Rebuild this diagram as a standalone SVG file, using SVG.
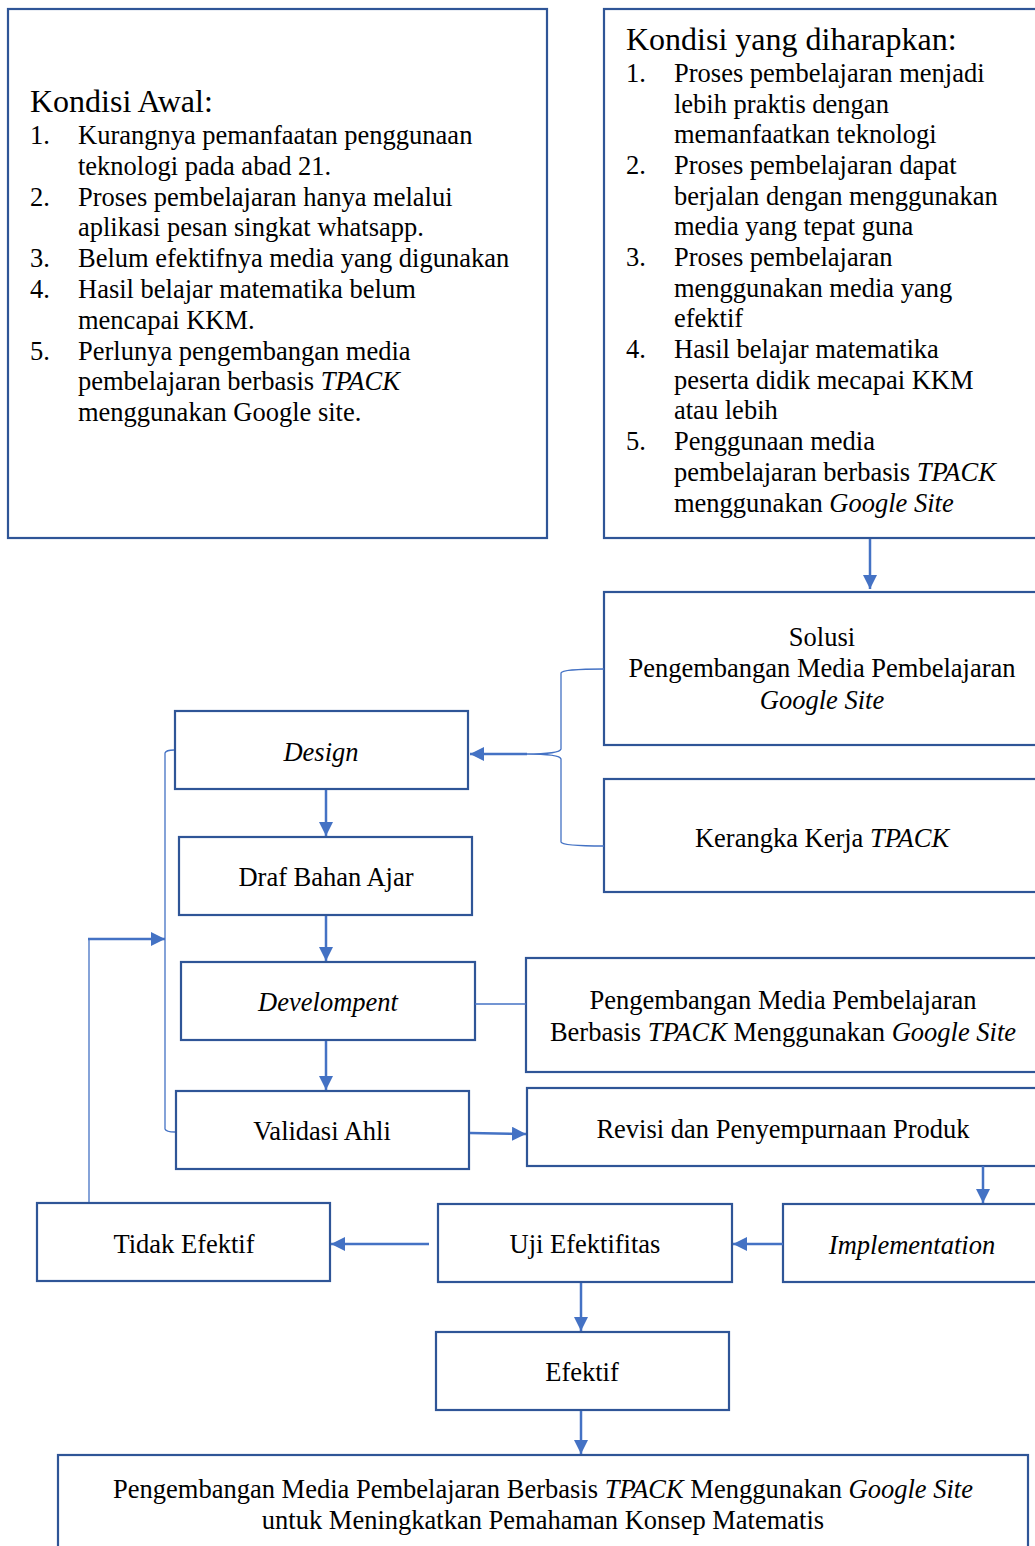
<svg xmlns="http://www.w3.org/2000/svg" width="1035" height="1546" viewBox="0 0 1035 1546">
<style>
.box{fill:#fff;stroke:#2F5597;stroke-width:2.2}
.t{font-family:"Liberation Serif","Times New Roman",serif;font-size:26.5px;fill:#000}
.ttl{font-family:"Liberation Serif","Times New Roman",serif;font-size:32px;fill:#000}
.c{text-anchor:middle}
.i{font-style:italic}
.con{fill:none;stroke:#4472C4;stroke-width:2.5}
.thin{fill:none;stroke:#4472C4;stroke-width:1.3}
</style>
<defs>
<marker id="ah" markerUnits="userSpaceOnUse" markerWidth="16" markerHeight="16" refX="14" refY="7" orient="auto">
<path d="M0,0 L14,7 L0,14 Z" fill="#4472C4"/>
</marker>
</defs>
<rect width="1035" height="1546" fill="#fff"/>

<g id="kondisi-awal">
<rect class="box" x="8" y="9" width="539" height="529"/>
<text class="ttl" x="30" y="112">Kondisi Awal:</text>
<g class="t">
<text x="30" y="144">1.</text><text x="78" y="144">Kurangnya pemanfaatan penggunaan</text>
<text x="78" y="175">teknologi pada abad 21.</text>
<text x="30" y="206">2.</text><text x="78" y="206">Proses pembelajaran hanya melalui</text>
<text x="78" y="236">aplikasi pesan singkat whatsapp.</text>
<text x="30" y="267">3.</text><text x="78" y="267">Belum efektifnya media yang digunakan</text>
<text x="30" y="298">4.</text><text x="78" y="298">Hasil belajar matematika belum</text>
<text x="78" y="329">mencapai KKM.</text>
<text x="30" y="360">5.</text><text x="78" y="360">Perlunya pengembangan media</text>
<text x="78" y="390">pembelajaran berbasis <tspan class="i">TPACK</tspan></text>
<text x="78" y="421">menggunakan Google site.</text>
</g>
</g>

<g id="kondisi-diharapkan">
<rect class="box" x="604" y="9" width="445" height="529"/>
<text class="ttl" x="626" y="50">Kondisi yang diharapkan:</text>
<g class="t">
<text x="626" y="82">1.</text><text x="674" y="82">Proses pembelajaran menjadi</text>
<text x="674" y="113">lebih praktis dengan</text>
<text x="674" y="143">memanfaatkan teknologi</text>
<text x="626" y="174">2.</text><text x="674" y="174">Proses pembelajaran dapat</text>
<text x="674" y="205">berjalan dengan menggunakan</text>
<text x="674" y="235">media yang tepat guna</text>
<text x="626" y="266">3.</text><text x="674" y="266">Proses pembelajaran</text>
<text x="674" y="297">menggunakan media yang</text>
<text x="674" y="327">efektif</text>
<text x="626" y="358">4.</text><text x="674" y="358">Hasil belajar matematika</text>
<text x="674" y="389">peserta didik mecapai KKM</text>
<text x="674" y="419">atau lebih</text>
<text x="626" y="450">5.</text><text x="674" y="450">Penggunaan media</text>
<text x="674" y="481">pembelajaran berbasis <tspan class="i">TPACK</tspan></text>
<text x="674" y="512">menggunakan <tspan class="i">Google Site</tspan></text>
</g>
</g>

<g id="solusi">
<rect class="box" x="604" y="592" width="445" height="153"/>
<text class="t c" x="822" y="646">Solusi</text>
<text class="t c" x="822" y="677">Pengembangan Media Pembelajaran</text>
<text class="t c i" x="822" y="709">Google Site</text>
</g>

<g id="kerangka">
<rect class="box" x="604" y="779" width="445" height="113"/>
<text class="t c" x="822" y="847">Kerangka Kerja <tspan class="i">TPACK</tspan></text>
</g>

<g id="design">
<rect class="box" x="175" y="711" width="293" height="78"/>
<text class="t c i" x="321" y="761">Design</text>
</g>

<g id="draf">
<rect class="box" x="179" y="837" width="293" height="78"/>
<text class="t c" x="326" y="886">Draf Bahan Ajar</text>
</g>

<g id="develompent">
<rect class="box" x="181" y="962" width="294" height="78"/>
<text class="t c i" x="328" y="1011">Develompent</text>
</g>

<g id="pengembangan">
<rect class="box" x="526" y="958" width="523" height="114"/>
<text class="t c" x="783" y="1009">Pengembangan Media Pembelajaran</text>
<text class="t c" x="783" y="1041">Berbasis <tspan class="i">TPACK</tspan> Menggunakan <tspan class="i">Google Site</tspan></text>
</g>

<g id="validasi">
<rect class="box" x="176" y="1091" width="293" height="78"/>
<text class="t c" x="322" y="1140">Validasi Ahli</text>
</g>

<g id="revisi">
<rect class="box" x="527" y="1088" width="522" height="78"/>
<text class="t c" x="783" y="1138">Revisi dan Penyempurnaan Produk</text>
</g>

<g id="implementation">
<rect class="box" x="783" y="1204" width="266" height="78"/>
<text class="t c i" x="912" y="1254">Implementation</text>
</g>

<g id="uji">
<rect class="box" x="438" y="1204" width="294" height="78"/>
<text class="t c" x="585" y="1253">Uji Efektifitas</text>
</g>

<g id="tidak-efektif">
<rect class="box" x="37" y="1203" width="293" height="78"/>
<text class="t c" x="184" y="1253">Tidak Efektif</text>
</g>

<g id="efektif">
<rect class="box" x="436" y="1332" width="293" height="78"/>
<text class="t c" x="582" y="1381">Efektif</text>
</g>

<g id="hasil">
<rect class="box" x="58" y="1455" width="970" height="110"/>
<text class="t c" x="543" y="1498">Pengembangan Media Pembelajaran Berbasis <tspan class="i">TPACK</tspan> Menggunakan <tspan class="i">Google Site</tspan></text>
<text class="t c" x="543" y="1529">untuk Meningkatkan Pemahaman Konsep Matematis</text>
</g>

<g id="connectors">
<line class="con" x1="870" y1="539" x2="870" y2="589" marker-end="url(#ah)"/>
<path class="thin" d="M604,669 Q562,669 561,673 L561,749 Q560,754 526,754 Q560,754 561,759 L561,842 Q562,846 604,846"/>
<line class="con" x1="527" y1="754" x2="470" y2="754" marker-end="url(#ah)"/>
<line class="con" x1="326" y1="790" x2="326" y2="836" marker-end="url(#ah)"/>
<line class="con" x1="326" y1="916" x2="326" y2="961" marker-end="url(#ah)"/>
<line class="thin" x1="475" y1="1004" x2="526" y2="1004"/>
<line class="con" x1="326" y1="1041" x2="326" y2="1090" marker-end="url(#ah)"/>
<line class="con" x1="470" y1="1133" x2="526" y2="1134" marker-end="url(#ah)"/>
<line class="con" x1="983" y1="1166" x2="983" y2="1203" marker-end="url(#ah)"/>
<line class="con" x1="783" y1="1244" x2="733" y2="1244" marker-end="url(#ah)"/>
<line class="con" x1="429" y1="1244" x2="331" y2="1244" marker-end="url(#ah)"/>
<line class="con" x1="581" y1="1283" x2="581" y2="1331" marker-end="url(#ah)"/>
<line class="con" x1="581" y1="1411" x2="581" y2="1454" marker-end="url(#ah)"/>
<path class="thin" d="M174,750 Q166,750 165,753 L165,1129 Q166,1132 175,1132"/>
<line class="thin" x1="89" y1="1202" x2="89" y2="939"/>
<line class="con" x1="88" y1="939" x2="165" y2="939" marker-end="url(#ah)"/>
</g>
</svg>
